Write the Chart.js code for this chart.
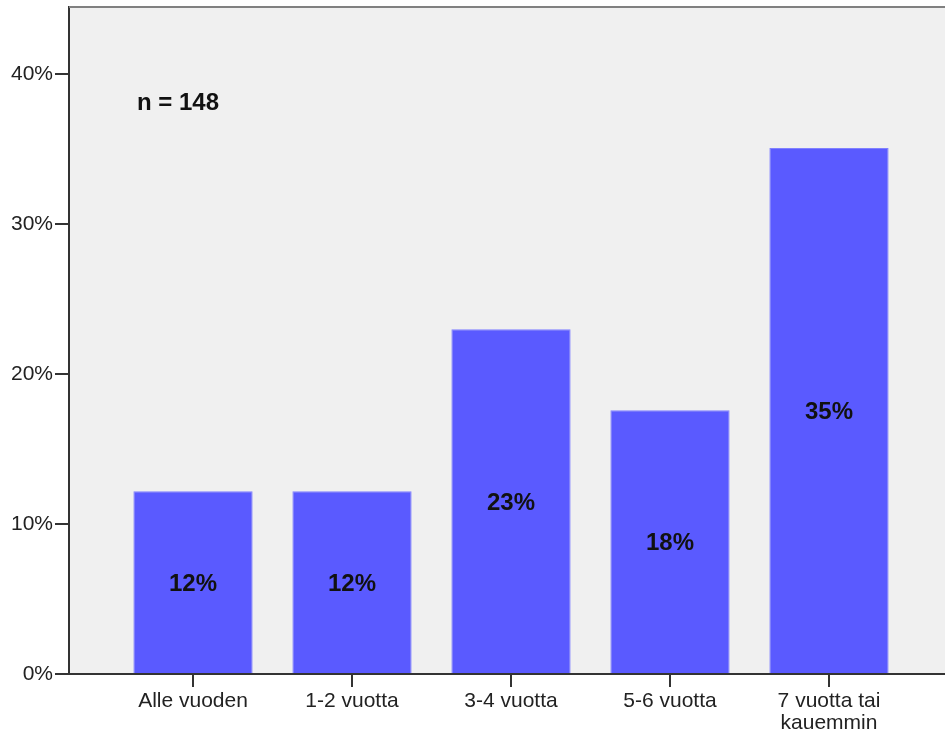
<!DOCTYPE html>
<html>
<head>
<meta charset="utf-8">
<script src="https://cdn.jsdelivr.net/npm/chart.js@4/dist/chart.umd.min.js"></script>
<style>
  html, body { margin: 0; padding: 0; background: #fff; }
  #wrap { width: 945px; height: 731px; overflow: hidden; position: relative; }
  #wrap canvas { position: absolute; left: 0; top: 0; }
</style>
</head>
<body>
<div id="wrap">
  <canvas id="myChart" width="960" height="731"></canvas>
</div>
<script>
// categories and values (percent of respondents)
const categories = ['Alle vuoden', '1-2 vuotta', '3-4 vuotta', '5-6 vuotta', ['7 vuotta tai', 'kauemmin']];
const percents = [12.2, 12.2, 23.0, 17.6, 35.1];
const yTicks = [0, 10, 20, 30, 40];
const nLabel = 'n = 148';

const FONT = '"Liberation Sans", Arial, sans-serif';

// top border of the plot area, bar labels and the n text
const extras = {
    id: 'extras',
    beforeDraw(chart) {
        const { ctx, chartArea: a } = chart;
        ctx.save();
        ctx.fillStyle = '#f0f0f0';
        ctx.fillRect(a.left, a.top, a.right - a.left, a.bottom - a.top);
        ctx.restore();
    },
    afterDatasetsDraw(chart) {
        const { ctx, chartArea: a } = chart;
        ctx.save();
        ctx.strokeStyle = '#808080';
        ctx.lineWidth = 2;
        ctx.beginPath();
        ctx.moveTo(a.left, a.top);
        ctx.lineTo(a.right, a.top);
        ctx.stroke();

        ctx.fillStyle = '#111';
        ctx.font = 'bold 24px ' + FONT;
        ctx.textAlign = 'center';
        ctx.textBaseline = 'middle';
        const meta = chart.getDatasetMeta(0);
        meta.data.forEach((bar, i) => {
            const p = bar.getProps(['x', 'y', 'base'], true);
            ctx.fillText(Math.round(percents[i]) + '%', p.x, (p.y + p.base) / 2 + 2);
        });

        ctx.textAlign = 'left';
        ctx.textBaseline = 'alphabetic';
        ctx.fillText(nLabel, a.left + 68, chart.scales.y.getPixelForValue(37.6));
        ctx.restore();
    }
};

const ctx = document.getElementById('myChart').getContext('2d');
new Chart(ctx, {
    type: 'bar',
    data: {
        datasets: [{
            data: percents.map((v, i) => ({ x: i, y: v })),
            backgroundColor: '#5a5aff',
            borderColor: '#8080ff',
            borderWidth: 1,
            categoryPercentage: 1,
            barPercentage: 0.75
        }]
    },
    options: {
        responsive: false,
        animation: false,
        layout: { padding: { top: 7, right: 7, left: 0, bottom: 0 } },
        plugins: { legend: { display: false }, tooltip: { enabled: false } },
        scales: {
            x: {
                type: 'linear',
                offset: false,
                min: -0.78,
                max: 4.78,
                afterBuildTicks(scale) {
                    scale.ticks = categories.map((c, i) => ({ value: i }));
                },
                afterFit(scale) {
                    scale.height = 57;
                    scale.paddingLeft = 0;
                    scale.paddingRight = 0;
                },
                border: { display: true, color: '#333', width: 2 },
                grid: { offset: false, drawOnChartArea: false, drawTicks: true, tickLength: 13, color: '#333', lineWidth: 2 },
                ticks: {
                    autoSkip: false,
                    maxRotation: 0,
                    padding: 3,
                    color: '#222',
                    font: { family: FONT, size: 21, lineHeight: 1.05 },
                    callback: (v) => categories[v]
                }
            },
            y: {
                min: 0,
                max: 44.5,
                afterBuildTicks(scale) {
                    scale.ticks = yTicks.map(v => ({ value: v }));
                },
                afterFit(scale) {
                    scale.width = 69;
                    scale.paddingTop = 0;
                    scale.paddingBottom = 0;
                },
                border: { display: true, color: '#333', width: 2 },
                grid: { drawOnChartArea: false, drawTicks: true, tickLength: 14, color: '#333', lineWidth: 2 },
                ticks: {
                    padding: 2,
                    color: '#222',
                    font: { family: FONT, size: 21 },
                    callback: (v) => v + '%'
                }
            }
        }
    },
    plugins: [extras]
});
</script>
</body>
</html>
